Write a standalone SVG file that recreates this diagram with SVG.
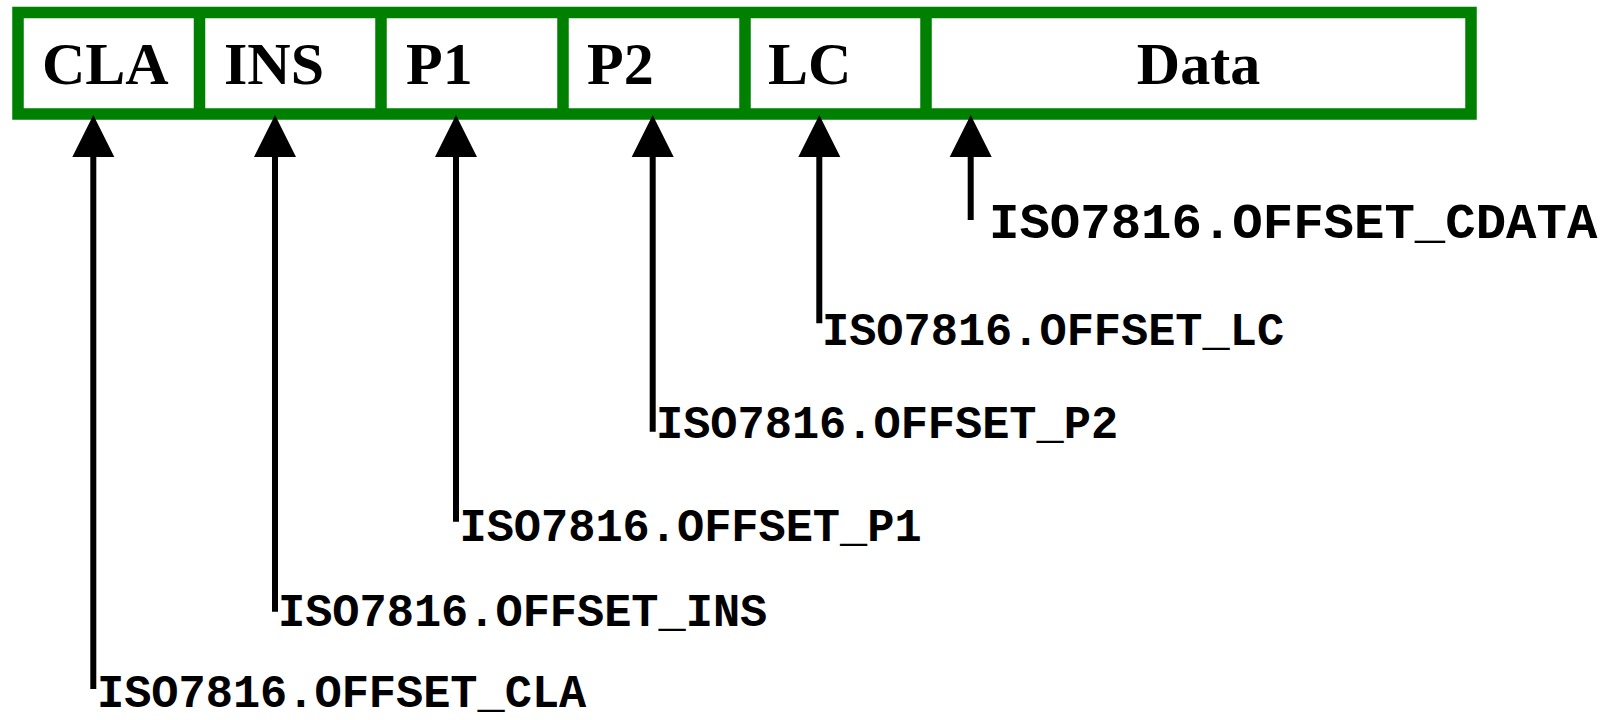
<svg xmlns="http://www.w3.org/2000/svg" width="1608" height="720" viewBox="0 0 1608 720">
<style>
.frame{fill:#fff;stroke:#008000;stroke-width:11.5}
.div{stroke:#008000;stroke-width:11.5}
.cell{font-family:"Liberation Serif","Times New Roman",serif;font-weight:bold;font-size:60px;fill:#000}
.lbl{font-family:"Liberation Mono","Courier New",monospace;font-weight:bold;font-size:45.3px;fill:#000}
.big{font-size:50.7px}
.shaft{stroke:#000;stroke-width:6;fill:none}
.head{fill:#000}
</style>
<rect width="1608" height="720" fill="#fff"/>
<g id="apdu">
<rect class="frame" x="18" y="12.5" width="1453" height="101.5"/>
<line class="div" x1="199.5" y1="12.5" x2="199.5" y2="114"/>
<line class="div" x1="381" y1="12.5" x2="381" y2="114"/>
<line class="div" x1="563" y1="12.5" x2="563" y2="114"/>
<line class="div" x1="745" y1="12.5" x2="745" y2="114"/>
<line class="div" x1="926" y1="12.5" x2="926" y2="114"/>
</g>
<g id="cla"><text class="cell" x="42" y="84">CLA</text></g>
<g id="ins"><text class="cell" x="224" y="84">INS</text></g>
<g id="p1"><text class="cell" x="406" y="84">P1</text></g>
<g id="p2"><text class="cell" x="587" y="84">P2</text></g>
<g id="lc"><text class="cell" x="768" y="84">LC</text></g>
<g id="data"><text class="cell" x="1198.5" y="84" text-anchor="middle">Data</text></g>
<g id="connectors">
<line class="shaft" x1="93.3" y1="150" x2="93.3" y2="689"/>
<polygon class="head" points="93.3,115 72.3,157 114.3,157"/>
<line class="shaft" x1="275" y1="150" x2="275" y2="611.7"/>
<polygon class="head" points="275,115 254,157 296,157"/>
<line class="shaft" x1="456" y1="150" x2="456" y2="521.7"/>
<polygon class="head" points="456,115 435,157 477,157"/>
<line class="shaft" x1="652.7" y1="150" x2="652.7" y2="431.7"/>
<polygon class="head" points="652.7,115 631.7,157 673.7,157"/>
<line class="shaft" x1="819.3" y1="150" x2="819.3" y2="323.3"/>
<polygon class="head" points="819.3,115 798.3,157 840.3,157"/>
<line class="shaft" x1="970.7" y1="150" x2="970.7" y2="220"/>
<polygon class="head" points="970.7,115 949.7,157 991.7,157"/>
</g>
<g id="labels">
<text class="lbl" x="97" y="707">ISO7816.OFFSET_CLA</text>
<text class="lbl" x="278" y="626">ISO7816.OFFSET_INS</text>
<text class="lbl" x="459.5" y="541">ISO7816.OFFSET_P1</text>
<text class="lbl" x="656" y="437.5">ISO7816.OFFSET_P2</text>
<text class="lbl" x="822" y="344.5">ISO7816.OFFSET_LC</text>
<text class="lbl big" x="989" y="237.5">ISO7816.OFFSET_CDATA</text>
</g>
</svg>
